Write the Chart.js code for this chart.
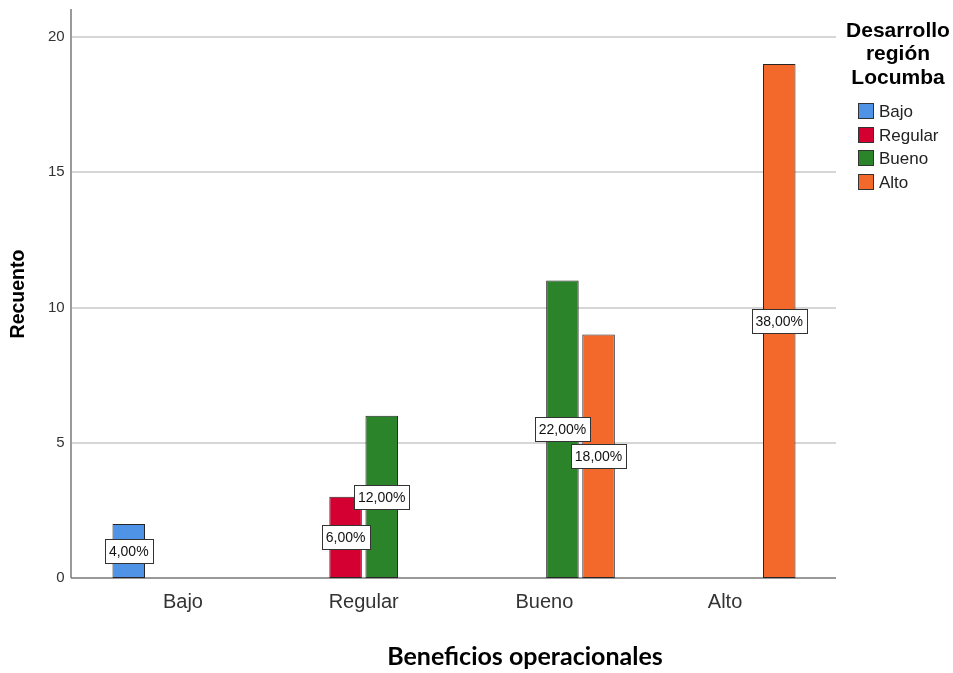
<!DOCTYPE html>
<html>
<head>
<meta charset="utf-8">
<title>Beneficios operacionales</title>
<script src="https://cdn.jsdelivr.net/npm/chart.js@4.4.1/dist/chart.umd.min.js"></script>
<style>
  html, body { margin: 0; padding: 0; background: #ffffff; }
  #wrap { position: relative; width: 953px; height: 673px; }
</style>
</head>
<body>
<div id="wrap"><canvas id="chart" width="953" height="673"></canvas></div>
<script>
// Categories on the x axis (Beneficios operacionales)
const categories = ['Bajo', 'Regular', 'Bueno', 'Alto'];

// Counts per group of "Desarrollo región Locumba" (null = no bar)
const bajoValues    = [2, null, null, null];
const regularValues = [null, 3, null, null];
const buenoValues   = [null, 6, 11, null];
const altoValues    = [null, null, 9, 19];

// Y axis ticks and upper limit
const yTicks = [0, 5, 10, 15, 20];
const yMax = 21;

const seriesNames  = ['Bajo', 'Regular', 'Bueno', 'Alto'];
const seriesColors = ['#4E93E6', '#D50032', '#2B8429', '#F3692C'];

const FONT = '"Liberation Sans", Arial, sans-serif';

const allValues = [bajoValues, regularValues, buenoValues, altoValues];
const total = allValues.flat().filter(v => v !== null).reduce((a, b) => a + b, 0);

// Horizontal extent of the grid lines and axis lines
const frame = { left: 71, right: 836 };

const framePlugin = {
  id: 'frame',
  beforeDatasetsDraw(chart) {
    const { ctx, scales: { y } } = chart;
    const zero = y.getPixelForValue(0);
    ctx.save();
    ctx.strokeStyle = '#d6d6d6';
    ctx.lineWidth = 2;
    yTicks.filter(v => v > 0).forEach(v => {
      const py = Math.round(y.getPixelForValue(v));
      ctx.beginPath();
      ctx.moveTo(frame.left, py);
      ctx.lineTo(frame.right, py);
      ctx.stroke();
    });
    ctx.strokeStyle = '#9a9a9a';
    ctx.lineWidth = 2;
    ctx.beginPath();
    ctx.moveTo(frame.left, y.getPixelForValue(yMax) - 1);
    ctx.lineTo(frame.left, zero);
    ctx.stroke();
    ctx.strokeStyle = '#777777';
    ctx.lineWidth = 1.5;
    ctx.beginPath();
    ctx.moveTo(frame.left, zero);
    ctx.lineTo(frame.right, zero);
    ctx.stroke();
    ctx.restore();
  }
};

// Percentage boxes centred on each bar
const percentLabels = {
  id: 'percentLabels',
  afterDatasetsDraw(chart) {
    const { ctx } = chart;
    ctx.save();
    ctx.font = '14px ' + FONT;
    ctx.textAlign = 'center';
    ctx.textBaseline = 'middle';
    chart.data.datasets.forEach((ds, di) => {
      const meta = chart.getDatasetMeta(di);
      meta.data.forEach((el, i) => {
        const v = ds.data[i];
        if (v === null || v === undefined) return;
        const text = (v / total * 100).toFixed(2).replace('.', ',') + '%';
        const cx = el.x;
        const cy = (el.y + el.base) / 2;
        const w = Math.round(ctx.measureText(text).width + 8);
        const h = 24;
        const x0 = Math.round(cx - w / 2) + 0.5;
        const y0 = Math.round(cy - h / 2) + 0.5;
        ctx.fillStyle = '#ffffff';
        ctx.fillRect(x0, y0, w, h);
        ctx.strokeStyle = '#333333';
        ctx.lineWidth = 1;
        ctx.strokeRect(x0, y0, w, h);
        ctx.fillStyle = '#111111';
        ctx.fillText(text, cx, cy + 1);
      });
    });
    ctx.restore();
  }
};

// Legend block and x axis title
const sideLegend = {
  id: 'sideLegend',
  afterDraw(chart) {
    const { ctx } = chart;
    ctx.save();
    ctx.fillStyle = '#000000';
    ctx.textAlign = 'center';
    ctx.textBaseline = 'middle';
    ctx.font = 'bold 21px ' + FONT;
    ['Desarrollo', 'región', 'Locumba'].forEach((line, i) => {
      ctx.fillText(line, 898, 31 + i * 23.5);
    });
    ctx.textAlign = 'left';
    ctx.font = '17px ' + FONT;
    chart.data.datasets.forEach((ds, i) => {
      const top = 103 + i * 23.7;
      ctx.fillStyle = ds.backgroundColor;
      ctx.fillRect(858.5, Math.round(top) + 0.5, 15, 15);
      ctx.strokeStyle = '#333333';
      ctx.lineWidth = 1;
      ctx.strokeRect(858.5, Math.round(top) + 0.5, 15, 15);
      ctx.fillStyle = '#222222';
      ctx.fillText(ds.label, 879, Math.round(top) + 9);
    });
    ctx.fillStyle = '#000000';
    ctx.textAlign = 'center';
    ctx.textBaseline = 'alphabetic';
    ctx.font = 'bold 25px Lato, "Open Sans", sans-serif';
    ctx.fillText('Beneficios operacionales', 525, 665);
    ctx.restore();
  }
};

new Chart(document.getElementById('chart'), {
  type: 'bar',
  data: {
    labels: categories,
    datasets: allValues.map((vals, i) => ({
      label: seriesNames[i],
      data: vals,
      backgroundColor: seriesColors[i],
      borderColor: '#262626',
      borderWidth: 1,
      borderSkipped: false,
      barPercentage: 0.9,
      categoryPercentage: 0.8
    }))
  },
  options: {
    responsive: false,
    animation: false,
    devicePixelRatio: 1,
    layout: { padding: { top: 10, right: 137.6, left: 0, bottom: 0 } },
    plugins: {
      legend: { display: false },
      tooltip: { enabled: false }
    },
    scales: {
      x: {
        grid: { display: false, drawTicks: false },
        border: { display: false },
        ticks: { color: '#333333', font: { family: FONT, size: 20 }, padding: 12 },
        afterFit(scale) { scale.height = 95; }
      },
      y: {
        min: 0,
        max: yMax,
        bounds: 'data',
        grid: { display: false, drawTicks: false },
        border: { display: false },
        ticks: {
          padding: 28,
          color: '#333333',
          font: { family: FONT, size: 15 }
        },
        afterBuildTicks(scale) {
          scale.ticks = yTicks.map(v => ({ value: v }));
          scale.min = 0;
          scale.max = yMax;
        },
        title: {
          display: true,
          text: 'Recuento',
          color: '#000000',
          font: { family: FONT, size: 19.5, weight: 'bold' },
          padding: { top: 7, bottom: 0 }
        },
        afterFit(scale) {
          scale.width = 92.6;
          scale.paddingTop = 0;
          scale.paddingBottom = 0;
        }
      }
    }
  },
  plugins: [framePlugin, percentLabels, sideLegend]
});
</script>
</body>
</html>
